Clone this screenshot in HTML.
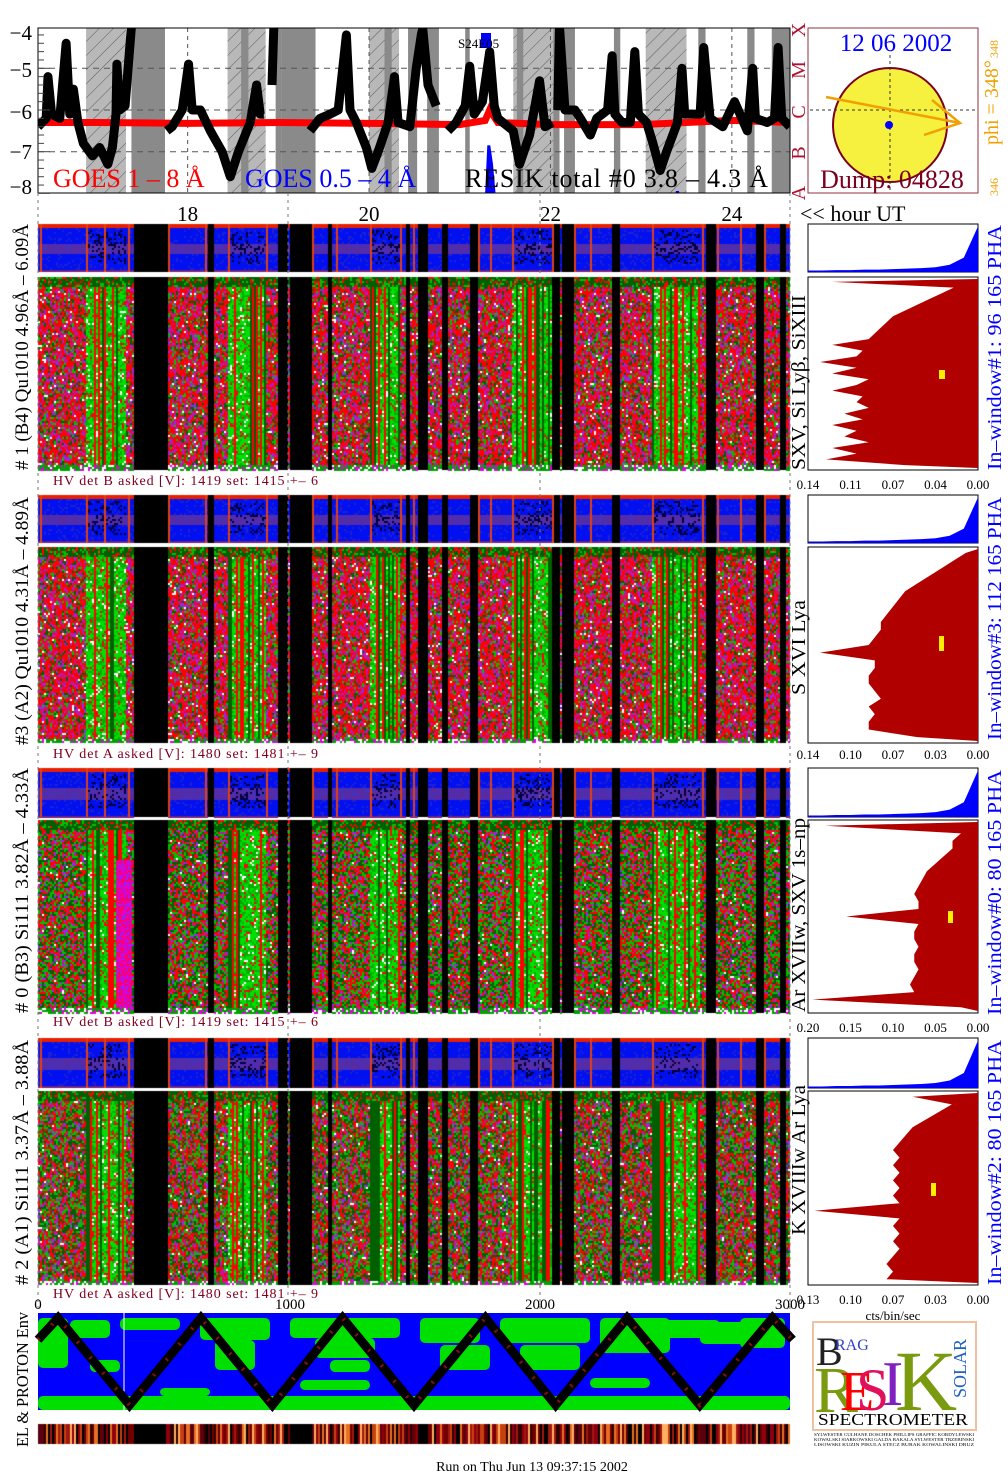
<!DOCTYPE html>
<html><head><meta charset="utf-8">
<style>
html,body{margin:0;padding:0;background:#fff;}
#wrap{position:relative;width:1008px;height:1481px;overflow:hidden;}
canvas,svg{position:absolute;left:0;top:0;}
text{font-family:"Liberation Serif",serif;}
</style></head>
<body>
<div id="wrap">
<canvas id="cv" width="1008" height="1481"></canvas>
<svg id="sv" width="1008" height="1481" xmlns="http://www.w3.org/2000/svg">
<defs>
<pattern id="hatch" width="10" height="10" patternUnits="userSpaceOnUse" patternTransform="rotate(45)">
<rect width="10" height="10" fill="#b8b8b8"/><line x1="0" y1="0" x2="0" y2="10" stroke="#444" stroke-width="0.8"/>
</pattern>
<clipPath id="goesClip"><rect x="38" y="28" width="752" height="165"/></clipPath>
</defs>
<g id="goes"></g>
<g id="rest"></g>
</svg>
</div>
<script>
// ===== GOES data (hours UT, log10 flux) =====
const goesHours = [
 [16.35,16.44,16.46,16.50,16.59,16.66,16.70,16.74,16.79,16.85,16.95,17.03,17.12,17.17,17.21,17.22,17.25,17.31,17.38],
 [17.77,17.83,17.94,18.01,18.05,18.14,18.25,18.38,18.47,18.56,18.69,18.76,18.80,18.84],
 [18.93,18.95],
 [19.35,19.46,19.57,19.66,19.75,19.79,19.86,19.97,20.03,20.10,20.21,20.28,20.32,20.45,20.52,20.59,20.65,20.74],
 [20.87,20.96,21.06,21.11,21.16,21.25,21.33,21.38,21.42,21.59,21.66,21.77,21.88,21.94,22.02],
 [22.08,22.10,22.16,22.27,22.33,22.44,22.51,22.63,22.68,22.71,22.79,22.88,22.93,22.97,23.06,23.13,23.21,23.28,23.40,23.45,23.48,23.65,23.69,23.76,23.90,24.03,24.17,24.23,24.26,24.39,24.47,24.51,24.55,24.64]
];
const goesLong = [
 [-6.4,-6.2,-5.2,-6.1,-6.2,-4.4,-6.1,-5.5,-6.3,-6.8,-7.1,-6.9,-7.3,-6.9,-6.1,-4.9,-6.0,-5.9,-4.0],
 [-6.5,-6.4,-6.0,-4.9,-6.0,-6.0,-6.5,-7.0,-7.6,-7.0,-6.3,-5.4,-6.1,-6.1],
 [-5.4,-4.0],
 [-6.5,-6.2,-6.1,-6.0,-4.2,-6.0,-6.3,-6.9,-7.4,-7.0,-6.3,-5.2,-6.3,-6.4,-5.0,-4.0,-5.4,-5.9],
 [-6.5,-6.3,-5.9,-4.95,-6.1,-5.8,-4.6,-5.9,-6.2,-6.5,-7.3,-6.6,-5.3,-6.4,-6.3],
 [-6.0,-4.0,-6.0,-6.0,-6.2,-6.6,-6.2,-6.0,-4.7,-6.1,-6.3,-6.3,-4.6,-6.1,-6.3,-6.8,-7.45,-7.0,-6.3,-5.0,-6.1,-6.1,-4.5,-6.2,-6.4,-5.8,-6.5,-5.0,-6.2,-6.3,-6.2,-4.5,-6.2,-6.4]
];
const redHours = [16.35,17,18,19,20,21,21.28,21.33,21.42,22,23,24,24.64];
const redVals  = [-6.3,-6.3,-6.32,-6.3,-6.32,-6.35,-6.25,-6.0,-6.3,-6.35,-6.35,-6.25,-6.3];
const blueHours = [[21.29,21.32,21.35,21.39],[23.36,23.40,23.44]];
const blueVals  = [[-8.3,-6.85,-7.3,-8.3],[-8.3,-7.95,-8.3]];
const yTicks = [-4,-5,-6,-7,-8];
const hourTicks = [18,20,22,24];
const grayBars = [[19.03,19.41],[20.17,20.25],[21.63,21.70],[20.43,20.53],[20.64,20.70],[21.06,21.11],[22.03,22.10],[22.15,22.27],[22.70,22.77],[23.63,23.71],[24.17,24.25],[24.44,24.64],[17.38,17.75],[18.59,18.67],[18.97,19.03],[20.66,20.77]];
const hatchBars = [[16.88,17.32],[18.44,18.86],[20.0,20.33],[21.59,22.03],[23.05,23.50]];

// ===== Histogram data (cts/bin/sec), top -> bottom =====
const histMax = [0.14,0.14,0.20,0.13];
const histTicks = [["0.14","0.11","0.07","0.04","0.00"],["0.14","0.10","0.07","0.03","0.00"],["0.20","0.15","0.10","0.05","0.00"],["0.13","0.10","0.07","0.03","0.00"]];
const hist1 = [0.12,0.02,0.03,0.04,0.05,0.06,0.07,0.075,0.08,0.085,0.09,0.12,0.095,0.10,0.13,0.10,0.12,0.09,0.10,0.12,0.095,0.10,0.09,0.11,0.095,0.12,0.10,0.11,0.09,0.12,0.10,0.125,0.06];
const hist3 = [0.01,0.02,0.03,0.04,0.05,0.06,0.065,0.07,0.075,0.08,0.08,0.085,0.09,0.13,0.085,0.085,0.09,0.09,0.085,0.08,0.09,0.085,0.09,0.09,0.05];
const hist0 = [0.18,0.02,0.03,0.03,0.04,0.05,0.06,0.065,0.07,0.075,0.07,0.07,0.155,0.07,0.075,0.075,0.07,0.075,0.075,0.07,0.075,0.08,0.075,0.195,0.02];
const hist2 = [0.05,0.02,0.03,0.04,0.05,0.055,0.06,0.065,0.06,0.065,0.06,0.065,0.06,0.065,0.06,0.125,0.06,0.065,0.06,0.065,0.06,0.065,0.07,0.065,0.07];
const phaSmall = [0.03,0.03,0.04,0.04,0.05,0.05,0.06,0.07,0.08,0.1,0.15,0.3,0.95];

// ===== Proton env zigzag (record index 0-3000, normalized 0-1) =====
const orbIdx = [0,80,365,650,935,1215,1500,1785,2065,2350,2640,2930,3010];
const orbVal = [0.75,1,0,1,0,1,0,1,0,1,0,1,0.75];

const NS="http://www.w3.org/2000/svg";
const G=document.getElementById('goes');
const R=document.getElementById('rest');
function el(tag,attrs,parent,txt){const e=document.createElementNS(NS,tag);for(const k in attrs)e.setAttribute(k,attrs[k]);if(txt!==undefined)e.textContent=txt;(parent||R).appendChild(e);return e;}
const hx = h => 38 + (h-16.35)*90.7;
const gy = v => 110 + (-6 - v)*41.7;

// ---- GOES panel
let bg=el('rect',{x:38,y:28,width:752,height:165,fill:'#fff'},G);

hatchBars.forEach(b=>{const r=el('rect',{x:hx(b[0]),y:28,width:hx(b[1])-hx(b[0]),height:165,fill:'url(#hatch)'},G);
});
grayBars.forEach(b=>{const r=el('rect',{x:hx(b[0]),y:28,width:hx(b[1])-hx(b[0]),height:165,fill:'#8a8a8a'},G);
});
[-5,-6,-7].forEach(v=>{const l=el('line',{x1:38,x2:790,y1:gy(v),y2:gy(v),stroke:'#555','stroke-dasharray':'6,5','stroke-width':1},G);
});
hourTicks.forEach(h=>{const l=el('line',{x1:hx(h),x2:hx(h),y1:28,y2:193,stroke:'#555','stroke-dasharray':'4,4','stroke-width':1},G);
});
const gclip=el('g',{'clip-path':'url(#goesClip)'},G);
blueHours.forEach((hs,i)=>{const pts=hs.map((h,j)=>hx(h)+','+gy(blueVals[i][j])).join(' ');
const p=el('polygon',{points:pts,fill:'#0000ff',stroke:'#0000ff','stroke-width':3},gclip);
});
{const p=el('polyline',{points:redHours.map((h,i)=>hx(h)+','+gy(redVals[i])).join(' '),fill:'none',stroke:'#ff0000','stroke-width':7},gclip);
}
goesHours.forEach((hs,i)=>{const p=el('polyline',{points:hs.map((h,j)=>hx(h)+','+gy(goesLong[i][j])).join(' '),fill:'none',stroke:'#000','stroke-width':9,'stroke-linejoin':'round'},gclip);
});
{const r=el('rect',{x:38,y:28,width:752,height:165,fill:'none',stroke:'#000','stroke-width':1},G);}
for(let v=-8;v<=-4;v+=0.2){const l=el('line',{x1:38,x2:Math.abs(v-Math.round(v))<0.01?50:44,y1:gy(v),y2:gy(v),stroke:'#444','stroke-width':1},G);}
const ytY={'-4':33,'-5':70,'-6':112,'-7':152,'-8':187};
yTicks.forEach(v=>{const t=el('text',{x:32,y:ytY[v]+7,'font-size':21,'text-anchor':'end'},G,'−'+Math.abs(v));});
hourTicks.forEach(h=>{const t=el('text',{x:hx(h),y:221,'font-size':21,'text-anchor':'middle'},R,String(h));});
{let t=el('text',{x:53,y:187,'font-size':26,fill:'#ff0000'},G,'GOES 1 – 8 Å');
t=el('text',{x:245,y:187,'font-size':26,fill:'#0000ff'},G,'GOES 0.5 – 4 Å');
t=el('text',{x:465,y:187,'font-size':26,fill:'#000',textLength:303,lengthAdjust:'spacing'},G,'RESIK total #0  3.8 – 4.3 Å');
let r=el('rect',{x:481,y:33,width:10,height:15,fill:'#0000ff'},G);
t=el('text',{x:458,y:48,'font-size':13},G,'S24E05');
t=el('text',{x:800,y:221,'font-size':22},R,'<< hour UT');}
[['X',30],['M',70],['C',112],['B',153],['A',193]].forEach(a=>{const t=el('text',{x:0,y:0,'font-size':20,fill:'#b01030','text-anchor':'middle',transform:`translate(805,${a[1]}) rotate(-90)`},R,a[0]);});

// ---- Sun box
{const g=el('g',{});
el('rect',{x:808,y:28,width:170,height:165,fill:'#fff',stroke:'#903040','stroke-width':1},g);
el('circle',{cx:890,cy:125,r:57,fill:'#f6f03e',stroke:'#7a0020','stroke-width':2},g);
el('line',{x1:890,x2:890,y1:55,y2:190,stroke:'#333','stroke-dasharray':'3,3'},g);
el('line',{x1:810,x2:975,y1:110,y2:110,stroke:'#333','stroke-dasharray':'3,3'},g);
el('circle',{cx:889,cy:125,r:4,fill:'#0000ff'},g);
el('polyline',{points:'826,97 960,123',stroke:'#f0a000','stroke-width':2.5,fill:'none'},g);
el('polyline',{points:'932,100 960,123 924,135',stroke:'#f0a000','stroke-width':2.5,fill:'none'},g);
let t=el('text',{x:896,y:51,'font-size':25,fill:'#0000ff','text-anchor':'middle'},g,'12 06 2002');
t=el('text',{x:892,y:188,'font-size':26,fill:'#7a0020','text-anchor':'middle'},g,'Dump: 04828');
t=el('text',{x:0,y:0,'font-size':20,fill:'#f0a000',transform:'translate(998,145) rotate(-90)'},R,'phi = 348°');
t=el('text',{x:0,y:0,'font-size':12,fill:'#f0a000',transform:'translate(998,58) rotate(-90)'},R,'348');
t=el('text',{x:0,y:0,'font-size':12,fill:'#f0a000',transform:'translate(998,196) rotate(-90)'},R,'346');}

[38,288,540,790].forEach(x=>{const l=el('line',{x1:x,x2:x,y1:193,y2:1310,stroke:'#777','stroke-dasharray':'3,4'});});

// ---- Panels
const panels=[
 {s0:224,s1:272,m0:277,m1:470,hv:480,tk:489,hist:hist1,max:histMax[0],ticks:histTicks[0],left:'# 1 (B4) Qu1010 4.96Å – 6.09Å',l0:224,l1:470,side:'SXV, Si Lyβ, SiXIII',d0:295,d1:470,right:'In–window#1:  96 165  PHA',r0:225,r1:470,hvt:'HV det B asked [V]:  1419 set:  1415  +–   6',mk:[939,370,6,9],green:0.25},
 {s0:495,s1:543,m0:547,m1:743,hv:753,tk:759,hist:hist3,max:histMax[1],ticks:histTicks[1],left:'#3 (A2) Qu1010  4.31Å – 4.89Å',l0:497,l1:745,side:'S XVI Lya',d0:600,d1:695,right:'In–window#3:  112 165  PHA',r0:497,r1:740,hvt:'HV det A asked [V]:  1480 set:  1481  +–   9',mk:[939,636,5,15],green:0.22},
 {s0:768,s1:817,m0:820,m1:1013,hv:1021,tk:1032,hist:hist0,max:histMax[2],ticks:histTicks[2],left:'# 0 (B3) Si111  3.82Å – 4.33Å',l0:768,l1:1013,side:'Ar XVIIw,  SXV 1s–np',d0:818,d1:1012,right:'In–window#0:  80 165  PHA',r0:770,r1:1015,hvt:'HV det B asked [V]:  1419 set:  1415  +–   6',mk:[948,911,5,12],green:0.5},
 {s0:1038,s1:1088,m0:1091,m1:1285,hv:1293,tk:1304,hist:hist2,max:histMax[3],ticks:histTicks[3],left:'# 2 (A1) Si111  3.37Å – 3.88Å',l0:1040,l1:1285,side:'K XVIIIw  Ar Lya',d0:1085,d1:1235,right:'In–window#2:  80 165  PHA',r0:1040,r1:1285,hvt:'HV det A asked [V]:  1480 set:  1481  +–   9',mk:[931,1183,5,13],green:0.45}
];
const blackCols=[[133,167],[207,213],[277,287],[289,311],[327,332],[406,409],[418,428],[441,448],[470,478],[552,560],[562,573],[612,620],[706,716],[755,763],[780,785]];
const greenBands=[[86,126],[228,266],[370,400],[512,552],[652,700]];
const hx0=808,hx1=978;
panels.forEach((p,i)=>{
 const g=el('g',{});
 el('rect',{x:hx0,y:p.s0,width:170,height:p.s1-p.s0,fill:'#fff',stroke:'#000','stroke-width':1},g);
 const n=phaSmall.length;
 const sp=[`${hx0},${p.s1}`];phaSmall.forEach((v,j)=>sp.push(`${hx0+(j/(n-1))*170},${p.s1-v*(p.s1-p.s0)}`));sp.push(`${hx1},${p.s0+2}`,`${hx1},${p.s1}`);
 const sm=el('polygon',{points:sp.join(' '),fill:'#0000ff'},g);
 el('rect',{x:hx0,y:p.m0,width:170,height:p.m1-p.m0,fill:'#fff',stroke:'#000','stroke-width':1},g);
 const hsx=v=>hx1-v/p.max*170;
 const N=p.hist.length;const hp=[`${hx1},${p.m0+2}`];
 p.hist.forEach((v,j)=>{const y=p.m0+2+(j+0.5)/N*(p.m1-p.m0-4);hp.push(`${hsx(v)},${y}`);});
 hp.push(`${hx1},${p.m1-2}`);
 const bh=el('polygon',{points:hp.join(' '),fill:'#b00000'},g);
 const mk=el('rect',{x:p.mk[0],y:p.mk[1],width:p.mk[2],height:p.mk[3],fill:'#ffee00'},g);
 p.ticks.forEach((t,j)=>{const tx=el('text',{x:hx0+j*42.5,y:p.tk,'font-size':13,'text-anchor':'middle'},g,t);});
 let t=el('text',{x:53,y:p.hv+5,'font-size':14,fill:'#800020',textLength:265,lengthAdjust:'spacing'},g,p.hvt);
 t=el('text',{x:0,y:0,'font-size':19,textLength:p.l1-p.l0,lengthAdjust:'spacingAndGlyphs',transform:`translate(28,${p.l1}) rotate(-90)`},g,p.left);
 t=el('text',{x:0,y:0,'font-size':20,textLength:p.d1-p.d0,lengthAdjust:'spacingAndGlyphs',transform:`translate(805,${p.d1}) rotate(-90)`},g,p.side);
 t=el('text',{x:0,y:0,'font-size':20,fill:'#0000ff',textLength:p.r1-p.r0,lengthAdjust:'spacingAndGlyphs',transform:`translate(1001,${p.r1}) rotate(-90)`},g,p.right);
});
{let t=el('text',{x:893,y:1320,'font-size':13,'text-anchor':'middle'},R,'cts/bin/sec');}

[['0',38],['1000',290],['2000',540],['3000',790]].forEach(a=>{const t=el('text',{x:a[1],y:1309,'font-size':15,'text-anchor':'middle'},R,a[0]);});
{let t=el('text',{x:0,y:0,'font-size':17,textLength:135,lengthAdjust:'spacingAndGlyphs',transform:'translate(28,1447) rotate(-90)'},R,'EL & PROTON Env');}
{const g=el('g',{});
el('rect',{x:38,y:1313,width:752,height:97,fill:'#0000ff'},g);
const gr='#00e000';
[[38,1396,752,14],[38,1318,30,50],[70,1320,40,18],[120,1318,60,12],[200,1318,70,22],[215,1340,40,30],[290,1318,110,20],[315,1338,60,20],[330,1360,40,12],[420,1318,60,25],[440,1345,50,25],[500,1318,90,25],[520,1345,60,25],[600,1318,70,35],[640,1320,80,18],[700,1322,70,22],[740,1318,45,30],[300,1380,70,10],[590,1378,60,10],[160,1388,50,8],[90,1360,30,12]].forEach(r=>el('rect',{x:r[0],y:r[1],width:r[2],height:r[3],fill:gr,rx:5},g));
el('line',{x1:124,x2:124,y1:1313,y2:1410,stroke:'#fff','stroke-width':1},g);
const ox=i=>38+i/3000*752, oy=v=>1405-v*87;
const pts=orbIdx.map((x,i)=>ox(x)+','+oy(orbVal[i])).join(' ');
const z=el('polyline',{points:pts,fill:'none',stroke:'#000','stroke-width':9},g);
el('polyline',{points:pts,fill:'none',stroke:'#801010','stroke-width':4,'stroke-dasharray':'2,18'},g);
}
{const g=el('g',{});
el('rect',{x:813,y:1322,width:163,height:108,fill:'#fff',stroke:'#f0c0a0','stroke-width':2},g);
el('text',{x:816,y:1365,'font-size':40,fill:'#222'},g,'B');
el('text',{x:835,y:1350,'font-size':16,fill:'#3040c0'},g,'RAG');
el('text',{x:814,y:1412,'font-size':66,fill:'#7a9a10'},g,'R');
el('text',{x:840,y:1410,'font-size':56,fill:'#ff0000'},g,'E');
el('text',{x:856,y:1410,'font-size':60,fill:'#e0105a'},g,'S');
el('text',{x:882,y:1405,'font-size':64,fill:'#8020c0'},g,'I');
el('text',{x:895,y:1410,'font-size':86,fill:'#7a9a10'},g,'K');
el('text',{x:0,y:0,'font-size':18,fill:'#2060c0',transform:'translate(966,1398) rotate(-90)'},g,'SOLAR');
const s=el('text',{x:818,y:1425,'font-size':17,textLength:150,lengthAdjust:'spacingAndGlyphs'},g,'SPECTROMETER');
['SYLWESTER  CULHANE  DOSCHEK  PHILLIPS  GRAFFIC  KORDYLEWSKI','KOWALSKI  SIARKOWSKI  GALDA  BAKALA  SYLWESTER  TRZEBINSKI','LISOWSKI  KUZIN  PIKULA  STECZ  BURAK  KOWALINSKI  DRUZ'].forEach((l,i)=>el('text',{x:814,y:1436+i*5,'font-size':4.5,textLength:160,lengthAdjust:'spacingAndGlyphs'},g,l));}
{let t=el('text',{x:532,y:1471,'font-size':14,'text-anchor':'middle'},R,'Run on Thu Jun 13 09:37:15 2002');}

// ===== canvas textures =====
const cv=document.getElementById('cv');const c=cv.getContext('2d');
let seed=12345;function rnd(){seed=(seed*1103515245+12345)&0x7fffffff;return seed/0x7fffffff;}
const inR=(x,L)=>L.some(r=>x>=r[0]&&x<r[1]);
panels.forEach((p,pi)=>{
 for(let x=38;x<790;x+=2){
  if(inR(x,blackCols)){c.fillStyle='#000';c.fillRect(x,p.s0,2,p.s1-p.s0);continue;}
  for(let y=p.s0;y<p.s1;y+=2){
   const f=(y-p.s0)/(p.s1-p.s0);let col;
   if(f<0.06)col='#e82000';else if(f>0.94)col='#702080';
   else if(f>0.38&&f<0.62)col=rnd()<0.5?'#5a2aa0':'#4830b8';
   else col=rnd()<0.85?'#0010f0':'#2020d0';
   if(inR(x,greenBands)&&f>0.1&&f<0.8&&rnd()<0.25)col='#000040';
   c.fillStyle=col;c.fillRect(x,y,2,2);
  }
 }
 [40,86,104,128,168,205,228,266,312,336,370,400,413,478,490,512,552,574,590,652,702,717,740,764].forEach(x=>{c.fillStyle='#e04010';c.fillRect(x,p.s0,2,p.s1-p.s0);});
 for(let x=38;x<790;x+=2){
  if(inR(x,blackCols)){c.fillStyle='#000';c.fillRect(x,p.m0,2,p.m1-p.m0);continue;}
  const gb=inR(x,greenBands);const stripe=rnd();
  const mag=(pi===2&&x>=115&&x<131);
  for(let y=p.m0;y<p.m1;y+=2){
   const f=(y-p.m0)/(p.m1-p.m0);const r=rnd();let col;
   if(f<0.05){col=r<0.6?'#006000':(r<0.8?'#00c000':'#ff0000');}
   else if(f>0.97){col=r<0.5?'#00a000':(r<0.75?'#ffffff':'#e000e0');}
   else if(mag&&f>0.2){col=r<0.5?'#e000c0':(r<0.85?'#ff0060':'#a020f0');}
   else if(gb){col=stripe<0.2?'#ff0000':(stripe<0.4?'#006000':(r<0.5?'#00e000':(r<0.8?'#00b000':(r<0.93?'#ff0000':'#ffffff'))));}
   else{const g=p.green;
    if(r<g*0.5)col='#00c000';else if(r<g)col='#006000';
    else if(r<g+(1-g)*0.55)col='#ff0000';else if(r<g+(1-g)*0.8)col='#d0107a';
    else if(r<g+(1-g)*0.96)col='#a020f0';else col='#ffffff';}
   c.fillStyle=col;c.fillRect(x,y,2,2);
  }
 }
});
const pal=['#000000','#300000','#700000','#a01810','#c84010','#e87020','#ffb060','#5a0010','#900010'];
for(let x=38;x<790;x+=2){let col=pal[Math.floor(rnd()*pal.length)];if(inR(x,[[133,165],[290,311],[418,428]]))col='#000';c.fillStyle=col;c.fillRect(x,1424,2,20);}
</script>
</body></html>
